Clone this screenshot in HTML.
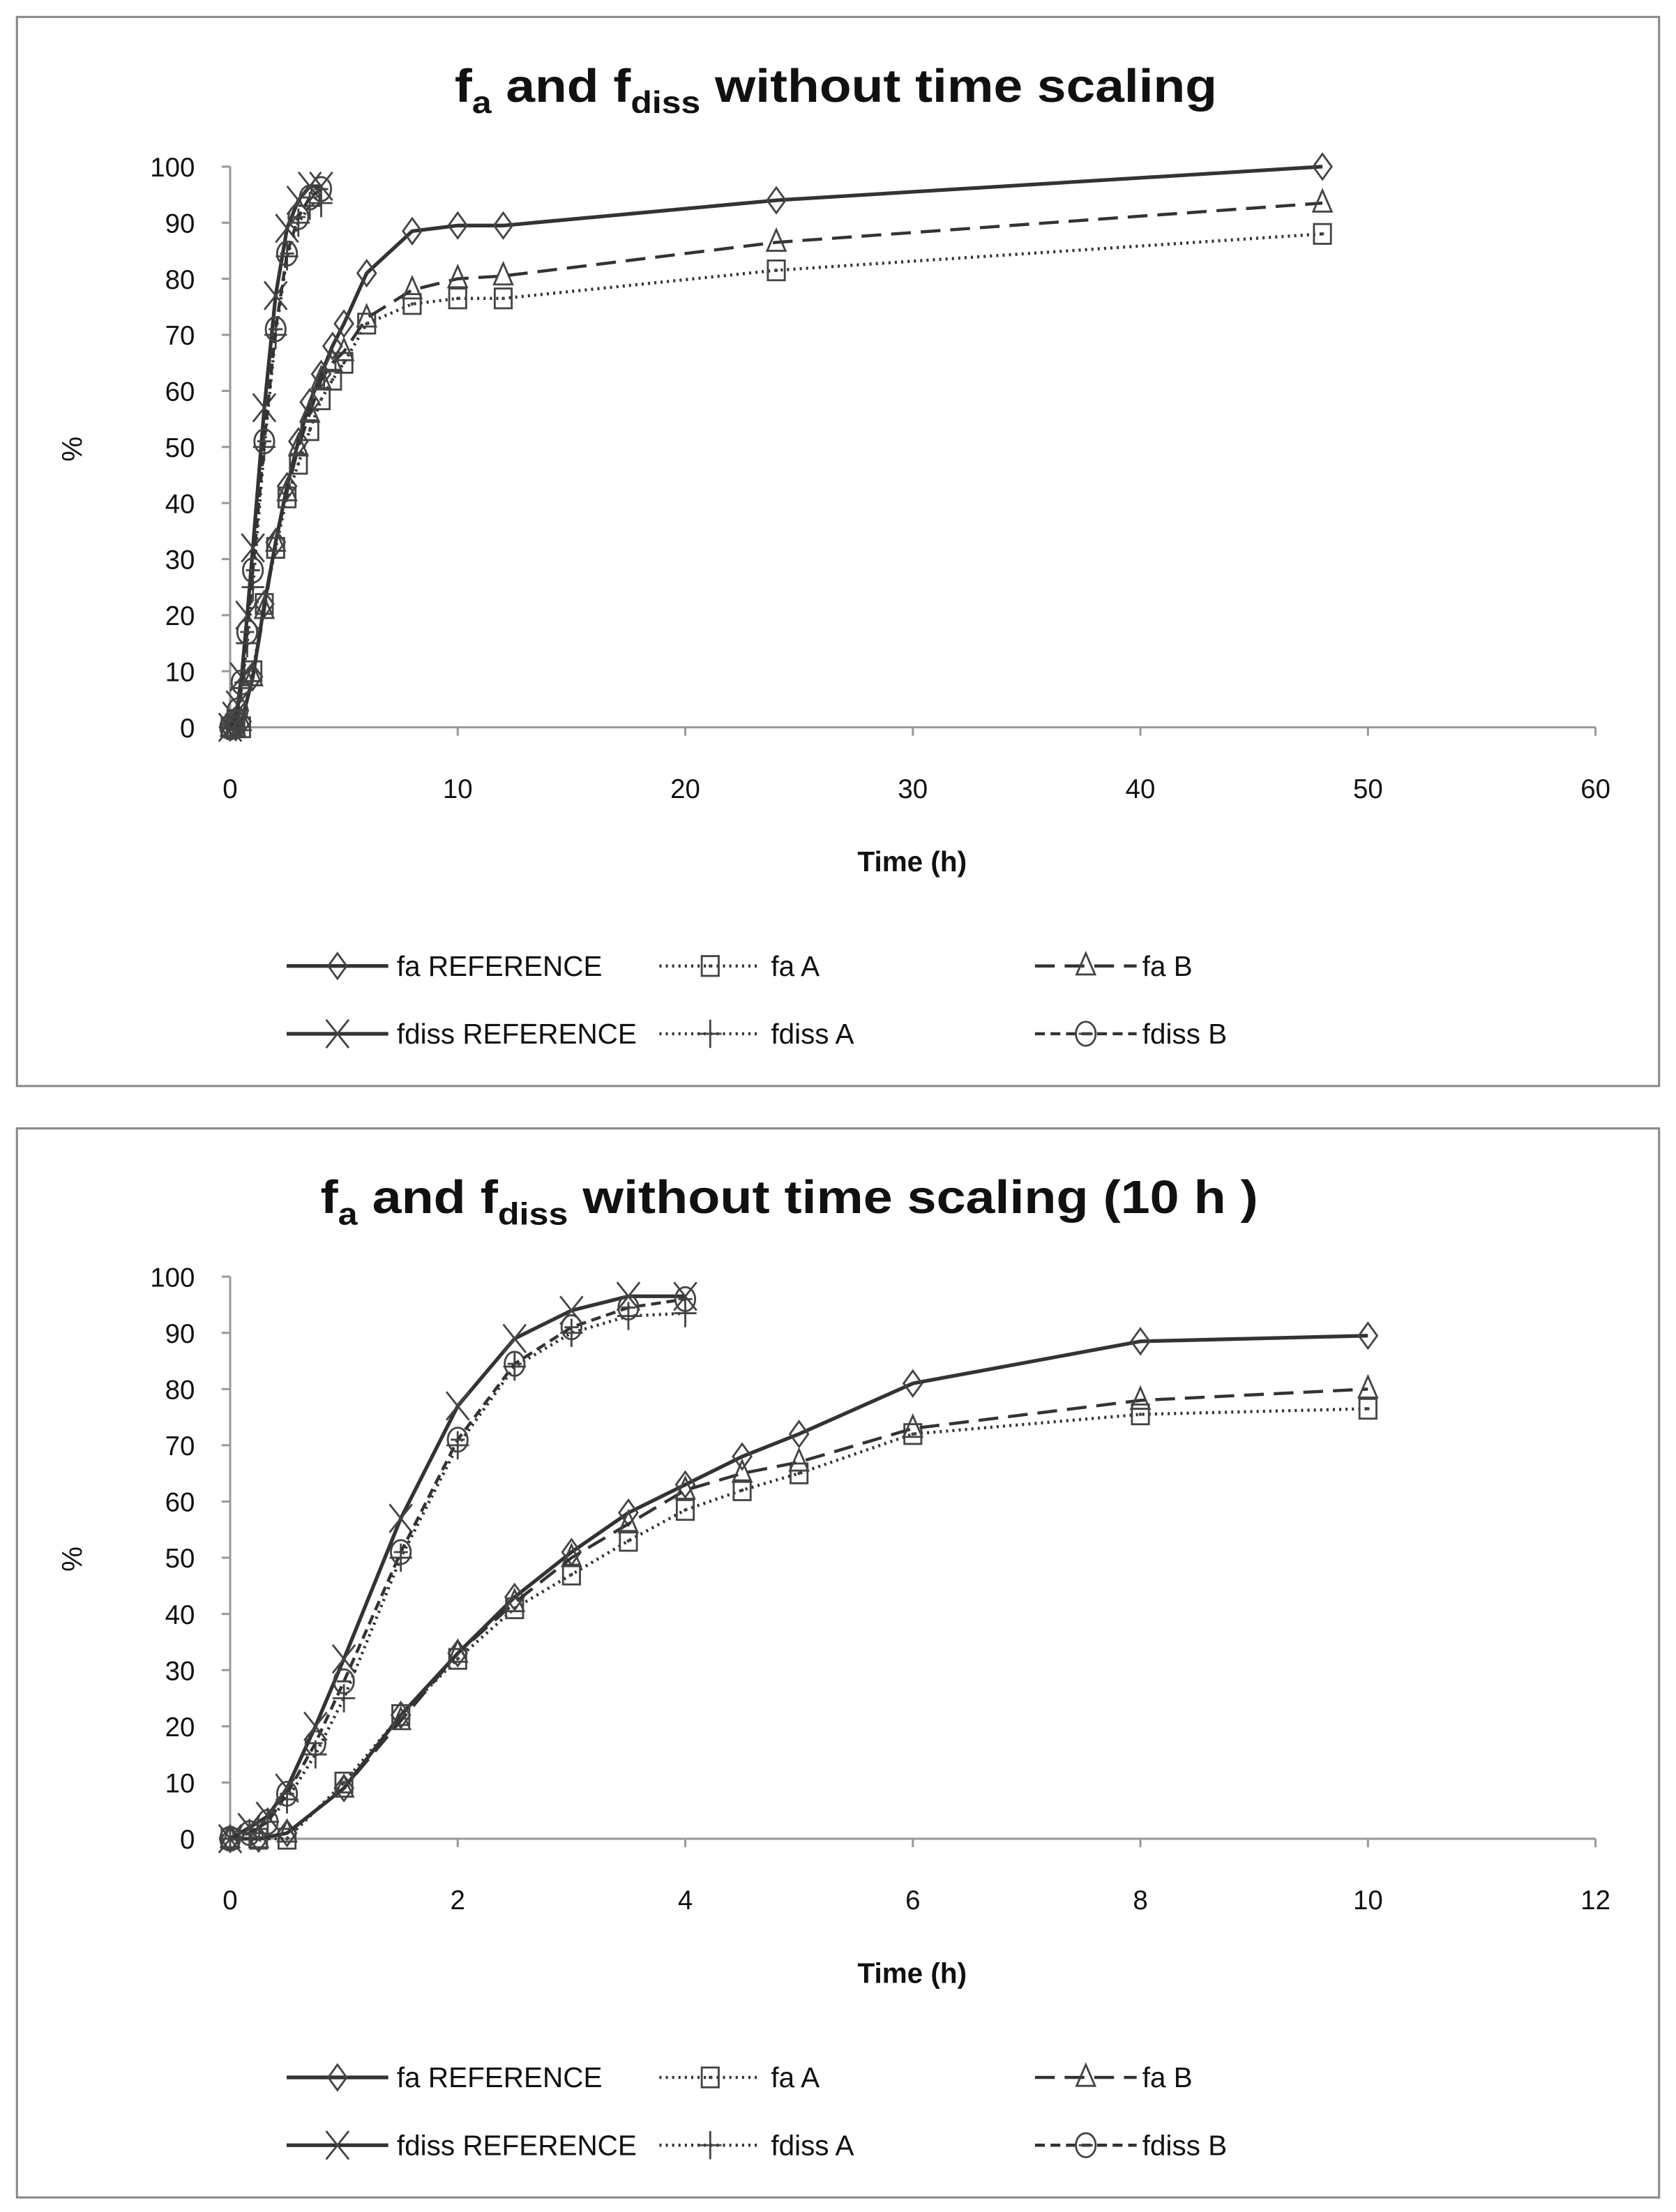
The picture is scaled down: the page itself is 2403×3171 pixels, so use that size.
<!DOCTYPE html>
<html><head><meta charset="utf-8"><style>
html,body{margin:0;padding:0;background:#fff;}
svg{display:block;}
text{font-family:"Liberation Sans",sans-serif;fill:#111;}
</style></head><body>
<svg id="s" width="2403" height="3171" viewBox="0 0 1187 1566.3" preserveAspectRatio="none" xmlns="http://www.w3.org/2000/svg">
<rect x="0" y="0" width="1187" height="1567" fill="#fff"/>
<rect x="12" y="12" width="1163" height="757" fill="none" stroke="#888" stroke-width="1.5"/>
<rect x="12" y="799" width="1163" height="757" fill="none" stroke="#888" stroke-width="1.5"/>
<text x="592" y="72" text-anchor="middle" font-size="33" font-weight="bold" textLength="540" lengthAdjust="spacingAndGlyphs">f<tspan font-size="22" dy="8">a</tspan><tspan dy="-8"> and f</tspan><tspan font-size="22" dy="8">diss</tspan><tspan dy="-8"> without time scaling</tspan></text>
<text x="559" y="859" text-anchor="middle" font-size="33" font-weight="bold" textLength="664" lengthAdjust="spacingAndGlyphs">f<tspan font-size="22" dy="8">a</tspan><tspan dy="-8"> and f</tspan><tspan font-size="22" dy="8">diss</tspan><tspan dy="-8"> without time scaling (10 h )</tspan></text>
<g id="g1"></g><g id="g2"></g>
<text x="646" y="617" text-anchor="middle" font-size="20" font-weight="bold">Time (h)</text>
<text x="646" y="1404" text-anchor="middle" font-size="20" font-weight="bold">Time (h)</text>
<text transform="translate(58,318) rotate(-90)" text-anchor="middle" font-size="20" fill="#611">%</text>
<text transform="translate(58,1104) rotate(-90)" text-anchor="middle" font-size="20" fill="#611">%</text>
</svg>
<script>
var NS="http://www.w3.org/2000/svg";
function el(p,t,a,txt){var e=document.createElementNS(NS,t);for(var k in a)e.setAttribute(k,a[k]);if(txt!==undefined)e.textContent=txt;p.appendChild(e);return e;}
var ta=[0,0.25,0.5,1,1.5,2,2.5,3,3.5,4,4.5,5,6,8,10,12,24,48];
var td=[0,0.17,0.33,0.5,0.75,1,1.5,2,2.5,3,3.5,4];
var S=[
 {t:ta,v:[0,0,1,9,22,33,43,51,58,63,68,72,81,88.5,89.5,89.5,94,100],m:'dia',d:'',n:'fa REFERENCE'},
 {t:ta,v:[0,0,0,10,22,32,41,47,53,58.5,62,65,72,75.5,76.5,76.5,81.5,88],m:'sq',d:'1.5 3',n:'fa A'},
 {t:ta,v:[0,0,1,9,21,33,42,50,56,62,65,67,73,78,80,80.5,86.5,93.5],m:'tri',d:'14 7',n:'fa B'},
 {t:td,v:[0,2,4,9,20,32,57,77,89,94,96.5,96.5],m:'x',d:'',n:'fdiss REFERENCE'},
 {t:td,v:[0,1,3,7,15,25,50,70,84,90,93,93.5],m:'plus',d:'1.5 3',n:'fdiss A'},
 {t:td,v:[0,1,3,8,17,28,51,71,84.5,91,94.5,96],m:'circ',d:'7 4',n:'fdiss B'}
];
function marker(g,m,x,y){
 var c="#444",w=1.4;
 if(m=='dia')el(g,'path',{d:'M'+x+' '+(y-9)+'L'+(x+6.5)+' '+y+'L'+x+' '+(y+9)+'L'+(x-6.5)+' '+y+'Z',fill:'none',stroke:c,'stroke-width':w});
 if(m=='sq'){el(g,'rect',{x:x-6,y:y-7,width:12,height:14,fill:'none',stroke:c,'stroke-width':w});el(g,'circle',{cx:x,cy:y,r:1.2,fill:c});}
 if(m=='tri'){el(g,'path',{d:'M'+x+' '+(y-9)+'L'+(x+6.5)+' '+(y+6)+'L'+(x-6.5)+' '+(y+6)+'Z',fill:'none',stroke:c,'stroke-width':w});}
 if(m=='x')el(g,'path',{d:'M'+(x-8)+' '+(y-10)+'L'+(x+8)+' '+(y+10)+'M'+(x+8)+' '+(y-10)+'L'+(x-8)+' '+(y+10),stroke:c,'stroke-width':w});
 if(m=='plus')el(g,'path',{d:'M'+(x-8)+' '+y+'L'+(x+8)+' '+y+'M'+x+' '+(y-10)+'L'+x+' '+(y+10),stroke:c,'stroke-width':w});
 if(m=='circ'){el(g,'ellipse',{cx:x,cy:y,rx:7,ry:8.5,fill:'none',stroke:c,'stroke-width':w});el(g,'line',{x1:x-5,y1:y,x2:x+5,y2:y,stroke:c,'stroke-width':w});}
}
function chart(gid,top,xmax,xstep,bot,tlim){
 var g=document.getElementById(gid);
 var x0=163,x1=1130,y0=bot,y1=top;
 function X(t){return x0+(x1-x0)*t/xmax;}
 function Y(v){return y0-(y0-y1)*v/100;}
 el(g,'line',{x1:x0,y1:y1,x2:x0,y2:y0,stroke:'#999','stroke-width':1.5});
 el(g,'line',{x1:x0,y1:y0,x2:x1,y2:y0,stroke:'#999','stroke-width':1.5});
 for(var v=0;v<=100;v+=10){var y=Y(v);el(g,'line',{x1:x0-6,y1:y,x2:x0,y2:y,stroke:'#999','stroke-width':1.5});el(g,'text',{x:138,y:y+7,'text-anchor':'end','font-size':19},String(v));}
 for(var t=0;t<=xmax;t+=xstep){var x=X(t);el(g,'line',{x1:x,y1:y0,x2:x,y2:y0+6,stroke:'#999','stroke-width':1.5});el(g,'text',{x:x,y:y0+50,'text-anchor':'middle','font-size':19},String(t));}
 S.forEach(function(s){
  var pts=[];for(var i=0;i<s.t.length;i++){if(s.t[i]<=tlim)pts.push([X(s.t[i]),Y(s.v[i])]);}
  var a={points:pts.map(function(p){return p[0].toFixed(1)+','+p[1].toFixed(1);}).join(' '),fill:'none',stroke:'#333','stroke-width':s.d==''?2.6:2.2};
  if(s.d)a['stroke-dasharray']=s.d;
  el(g,'polyline',a);
  pts.forEach(function(p){marker(g,s.m,p[0],p[1]);});
 });
 var ly=[bot+169,bot+217],lx=[203,467,733],tx=[281,546,809];
 S.forEach(function(s,i){
  var r=Math.floor(i/3),c=i%3,y=ly[r];
  var a={x1:lx[c],y1:y,x2:lx[c]+72,y2:y,stroke:'#333','stroke-width':s.d==''?2.6:2.2};
  if(s.d)a['stroke-dasharray']=s.d;
  el(g,'line',a);
  marker(g,s.m,lx[c]+36,y);
  el(g,'text',{x:tx[c],y:y+7,'font-size':20},s.n);
 });
}
chart('g1',118,60,10,515,60);
chart('g2',904,12,2,1302,10);
</script>
</body></html>
